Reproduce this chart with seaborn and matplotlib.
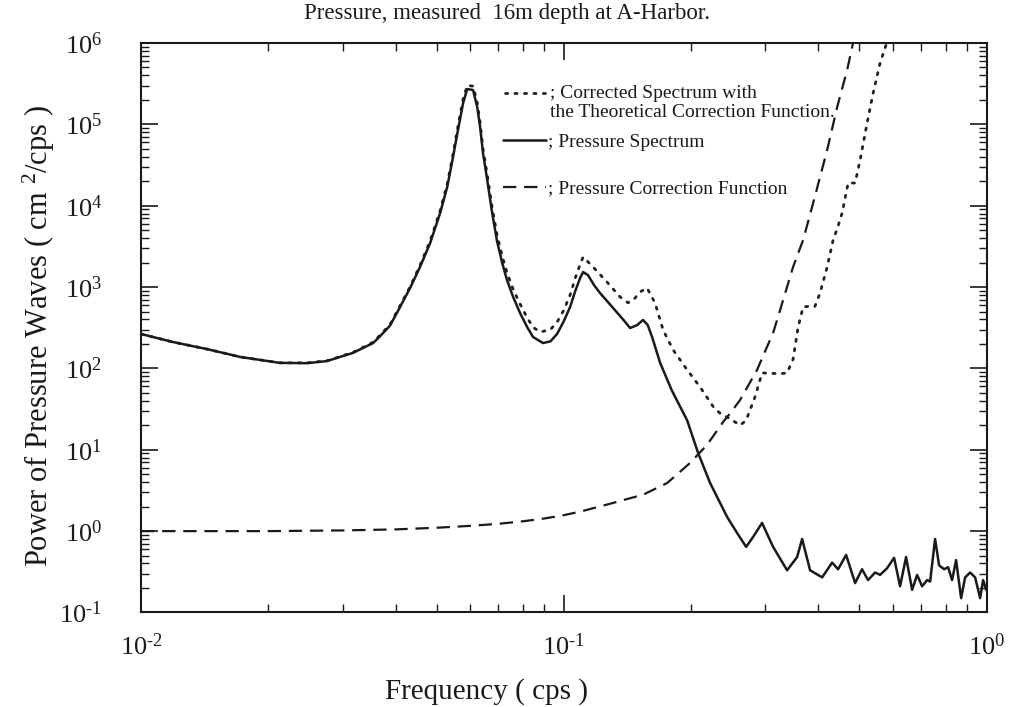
import numpy as np
import pandas as pd
import matplotlib
matplotlib.use("Agg")
import matplotlib.pyplot as plt
import seaborn as sns
from matplotlib.ticker import LogLocator, NullFormatter, FuncFormatter

# ---------------- data ----------------
spec_freq = [0.0100, 0.0119, 0.0143, 0.0172, 0.0213, 0.0247, 0.0275, 0.0317, 0.0354, 0.0366,
             0.0388, 0.0410, 0.0433, 0.0457, 0.0483, 0.0510, 0.0530, 0.0547, 0.0562, 0.0578,
             0.0591, 0.0610, 0.0624, 0.0634, 0.0644, 0.0659, 0.0677, 0.0695, 0.0715, 0.0734,
             0.0759, 0.0788, 0.0819, 0.0846, 0.0893, 0.0930, 0.0964, 0.1000, 0.1035, 0.1065,
             0.1093, 0.1111, 0.1141, 0.1180, 0.1218, 0.1308, 0.1381, 0.1435, 0.1490, 0.1540,
             0.1580, 0.1618, 0.1690, 0.1800, 0.1958, 0.2079, 0.2219, 0.2435, 0.2570, 0.2700,
             0.2805, 0.2945, 0.3127, 0.3375, 0.3564, 0.3663, 0.3825, 0.4085, 0.4313, 0.4456,
             0.4655, 0.4888, 0.5076, 0.5245, 0.5450, 0.5601, 0.5818, 0.6044, 0.6245, 0.6452,
             0.6668, 0.6852, 0.7041, 0.7236, 0.7355, 0.7557, 0.7723, 0.7937, 0.8112, 0.8290,
             0.8473, 0.8708, 0.8900, 0.9147, 0.9397, 0.9658, 0.9817, 0.9980]
spec_power = [265, 211, 173, 138, 117, 116, 123, 155, 205, 243,
              335, 569, 975, 1766, 3480, 8150, 17000, 39700, 85300, 183000,
              272000, 264000, 163000, 92900, 44500, 20700, 8150, 3700, 1980, 1220,
              755, 480, 323, 243, 205, 215, 265, 380, 569, 900,
              1290, 1530, 1400, 1050, 846, 553, 400, 314, 340, 394,
              340, 243, 117, 54, 23, 9.1, 3.9, 1.49, 0.95, 0.64,
              0.85, 1.26, 0.64, 0.33, 0.48, 0.80, 0.33, 0.27, 0.41, 0.34,
              0.51, 0.23, 0.34, 0.25, 0.31, 0.29, 0.35, 0.47, 0.21, 0.48,
              0.19, 0.29, 0.21, 0.25, 0.24, 0.80, 0.38, 0.34, 0.36, 0.25,
              0.44, 0.15, 0.27, 0.31, 0.27, 0.15, 0.25, 0.19]

corr_freq = [0.010, 0.020, 0.030, 0.040, 0.050, 0.060, 0.070, 0.080, 0.090, 0.100,
             0.110, 0.120, 0.130, 0.140, 0.154, 0.1756, 0.199, 0.2183, 0.2382, 0.2474,
             0.2613, 0.2866, 0.2913, 0.3127, 0.3196, 0.3487, 0.3683, 0.3890, 0.4198, 0.4433,
             0.4680, 0.4834, 0.500]
corr_power = [1.00, 1.00, 1.02, 1.05, 1.10, 1.16, 1.23, 1.32, 1.43, 1.57,
              1.75, 1.97, 2.2, 2.45, 2.8, 3.9, 6.9, 11.5, 22, 28,
              41, 96, 117, 273, 394, 1770, 3790, 10800, 48400, 163000,
              466000, 1.0e6, 2.0e6]

cspec_freq = [0.0100, 0.0119, 0.0143, 0.0172, 0.0213, 0.0247, 0.0275, 0.0317, 0.0354, 0.0366,
              0.0388, 0.0410, 0.0433, 0.0457, 0.0483, 0.0510, 0.0530, 0.0547, 0.0562, 0.0578,
              0.0591, 0.0610, 0.0624, 0.0634, 0.0644, 0.0659, 0.0677, 0.0695, 0.0715, 0.0734,
              0.0759, 0.0788, 0.0819, 0.0846, 0.0880, 0.0930, 0.0964, 0.1000, 0.1035, 0.1065,
              0.1093, 0.1111, 0.1173, 0.1266, 0.1359, 0.1420, 0.1470, 0.1515, 0.1574, 0.1644,
              0.1718, 0.1814, 0.1958, 0.2101, 0.2256, 0.2343, 0.2474, 0.2613, 0.2700, 0.2835,
              0.2945, 0.3100, 0.3250, 0.3375, 0.3487, 0.3584, 0.3683, 0.3800, 0.3925, 0.4039,
              0.4198, 0.4337, 0.4450, 0.4555, 0.4706, 0.4888, 0.5024, 0.5218, 0.5393, 0.5601,
              0.5756, 0.5900]
cspec_power = [265, 211, 173, 138, 117, 117, 124, 157, 210, 250,
               345, 590, 1010, 1850, 3700, 8700, 18500, 43000, 95000, 205000,
               300000, 295000, 185000, 105000, 50000, 24000, 9500, 4400, 2400, 1500,
               940, 620, 420, 320, 280, 300, 370, 520, 800, 1300,
               1900, 2340, 1766, 1150, 755, 640, 720, 870, 975, 637,
               296, 169, 96, 59, 34, 28, 24, 20, 23, 45,
               88, 87, 86, 88, 130, 323, 570, 580, 575, 846,
               1766, 3790, 5500, 8150, 19000, 19000, 36500, 104000, 243000, 568000,
               870000, 1300000]

legend_labels = ["; Corrected Spectrum with\nthe Theoretical Correction Function.",
                 "; Pressure Spectrum",
                 "; Pressure Correction Function"]
x_ticks = [0.01, 0.1, 1.0]
y_ticks = [1e-1, 1e0, 1e1, 1e2, 1e3, 1e4, 1e5, 1e6]

# ---------------- style ----------------
sns.set_style("ticks")
plt.rcParams['font.family'] = ['Liberation Serif', 'DejaVu Serif']
plt.rcParams['mathtext.fontset'] = 'custom'
plt.rcParams['mathtext.rm'] = 'Liberation Serif'
plt.rcParams['mathtext.it'] = 'Liberation Serif:italic'
plt.rcParams['mathtext.bf'] = 'Liberation Serif:bold'
plt.rcParams['axes.unicode_minus'] = False

INK = "#1a1a1a"
fig = plt.figure(figsize=(10.14, 7.07), dpi=100)
ax = fig.add_axes([0.1391, 0.1337, 0.8338, 0.8055])

df_c = pd.DataFrame({"f": cspec_freq, "P": cspec_power})
df_s = pd.DataFrame({"f": spec_freq, "P": spec_power})
df_k = pd.DataFrame({"f": corr_freq, "P": corr_power})

sns.lineplot(data=df_c, x="f", y="P", ax=ax, color="#222222", lw=2.0,
             linestyle=(0, (0.8, 2.6)), dash_capstyle="round")
sns.lineplot(data=df_s, x="f", y="P", ax=ax, color=INK, lw=1.8)
sns.lineplot(data=df_k, x="f", y="P", ax=ax, color=INK, lw=1.6,
             linestyle=(0, (6, 3.5)))

ax.set_xscale("log")
ax.set_yscale("log")
ax.set_xlim(0.01, 1.0)
ax.set_ylim(0.1, 1e6)

def sci(v, pos):
    e = int(round(np.log10(v)))
    if e < 0:
        return r"$10^{\text{-%d}}$" % (-e)
    return r"$10^{%d}$" % e

ax.set_xticks(x_ticks)
ax.set_yticks(y_ticks)
ax.xaxis.set_major_formatter(FuncFormatter(sci))
ax.yaxis.set_major_formatter(FuncFormatter(sci))
ax.xaxis.set_minor_locator(LogLocator(base=10, subs=np.arange(2, 10), numticks=100))
ax.yaxis.set_minor_locator(LogLocator(base=10, subs=np.arange(2, 10), numticks=100))
ax.xaxis.set_minor_formatter(NullFormatter())
ax.yaxis.set_minor_formatter(NullFormatter())

ax.tick_params(which="both", direction="in", top=True, right=True, colors=INK)
ax.tick_params(which="major", length=12, width=1.2)
ax.tick_params(which="minor", length=6, width=1.0)
ax.tick_params(axis="x", which="major", labelsize=19, pad=15)
ax.tick_params(axis="y", which="major", labelsize=19, pad=28)
for s in ax.spines.values():
    s.set_linewidth(1.5)
    s.set_color(INK)

ax.set_xlabel("Frequency ( cps )", fontsize=21, color=INK)
ax.set_ylabel(r"Power of Pressure Waves ( cm $^{2}$/cps )", fontsize=22, color=INK)
ax.xaxis.set_label_coords(0.409, -0.115)
ax.yaxis.set_label_coords(-0.100, 0.485)

fig.text(507 / 1014, 1 - 14 / 707, "Pressure, measured  16m depth at A-Harbor.",
         ha="center", va="center", fontsize=16.5, color=INK)

lines = ax.get_lines()
leg1 = ax.legend(handles=[lines[0]], labels=[legend_labels[0]],
                 loc="upper left", bbox_to_anchor=(0.4305, 0.926), frameon=False,
                 fontsize=14, handlelength=2.2, handletextpad=0.12,
                 borderpad=0, borderaxespad=0)
for t in leg1.get_texts():
    t.set_linespacing(1.12)
    t.set_color(INK)
h0 = leg1.legend_handles[0]
h0.set_ydata(np.asarray(h0.get_ydata()) + 6.8)
ax.add_artist(leg1)

leg2 = ax.legend(handles=[lines[1], lines[2]], labels=legend_labels[1:],
                 loc="upper left", bbox_to_anchor=(0.428, 0.8415), frameon=False,
                 fontsize=14, handlelength=2.2, handletextpad=0.12, labelspacing=1.51,
                 borderpad=0, borderaxespad=0)
for t in leg2.get_texts():
    t.set_color(INK)

fig.savefig("out.png", dpi=100)
